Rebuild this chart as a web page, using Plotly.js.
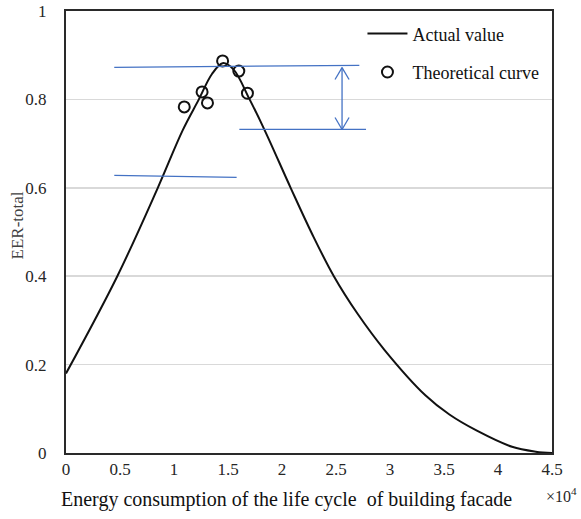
<!DOCTYPE html>
<html>
<head>
<meta charset="utf-8">
<script src="https://cdn.plot.ly/plotly-3.0.1.min.js"></script>
<style>html,body{margin:0;padding:0;background:#fff;}#chart{width:581px;height:519px;}</style>
</head>
<body>
<div id="chart"></div>
<script>
// Actual value curve (x in units of 10^4)
const actualX = [0, 0.475, 0.85, 1.08, 1.23, 1.35, 1.45, 1.55, 1.70, 1.84, 2.08, 2.28, 2.48, 2.70, 2.95, 3.33, 3.55, 3.80, 4.13, 4.35, 4.5];
const actualY = [0.18, 0.40, 0.60, 0.73, 0.80, 0.857, 0.882, 0.868, 0.80, 0.73, 0.60, 0.495, 0.40, 0.315, 0.233, 0.13, 0.087, 0.051, 0.014, 0.003, 0];

// Theoretical curve points
const theoX = [1.095, 1.26, 1.31, 1.45, 1.60, 1.68];
const theoY = [0.783, 0.817, 0.792, 0.887, 0.864, 0.814];

// Tick labels
const xTicks = [0, 0.5, 1, 1.5, 2, 2.5, 3, 3.5, 4, 4.5];
const xTickLabels = ["0", "0.5", "1", "1.5", "2", "2.5", "3", "3.5", "4", "4.5"];
const yTicks = [0, 0.2, 0.4, 0.6, 0.8, 1];
const yTickLabels = ["0", "0.2", "0.4", "0.6", "0.8", "1"];

// Blue guide lines [x0, y0, x1, y1]
const guideTop = [0.447, 0.8726, 2.716, 0.877];
const guideRight = [1.605, 0.732, 2.778, 0.732];
const guideLeft = [0.447, 0.628, 1.580, 0.6235];
// Double arrow: x, top y, bottom y
const arrowX = 2.556;
const arrowTop = 0.872;
const arrowBottom = 0.732;

const blue = '#4472C4';
const serif = '"Liberation Serif", "Times New Roman", serif';

function seg(a, w) {
  return {type: 'line', xref: 'x', yref: 'y', x0: a[0], y0: a[1], x1: a[2], y1: a[3],
          line: {color: blue, width: w || 1.3}};
}
const headDx = 0.065, headDy = 0.027;
const shapes = [
  seg(guideTop), seg(guideRight), seg(guideLeft),
  seg([arrowX, arrowTop, arrowX, arrowBottom]),
  seg([arrowX, arrowTop, arrowX - headDx, arrowTop - headDy]),
  seg([arrowX, arrowTop, arrowX + headDx, arrowTop - headDy]),
  seg([arrowX, arrowBottom, arrowX - headDx, arrowBottom + headDy]),
  seg([arrowX, arrowBottom, arrowX + headDx, arrowBottom + headDy])
];

const traces = [
  {x: actualX, y: actualY, type: 'scatter', mode: 'lines', name: 'Actual value',
   line: {color: '#111', width: 2, shape: 'spline', smoothing: 1}, legendgroup: 'a'},
  {x: theoX, y: theoY, type: 'scatter', mode: 'markers', name: 'Theoretical curve',
   marker: {symbol: 'circle-open', size: 11, color: '#111', line: {width: 2, color: '#111'}}, legendgroup: 'b'}
];

const layout = {
  width: 581, height: 519,
  margin: {l: 66, r: 29, t: 11, b: 66},
  paper_bgcolor: '#fff', plot_bgcolor: '#fff',
  font: {family: serif, color: '#262626'},
  showlegend: true,
  legend: {x: 0.61, y: 0.99, xanchor: 'left', yanchor: 'top', bgcolor: 'rgba(0,0,0,0)', itemwidth: 40,
           font: {family: serif, size: 18, color: '#111'}, traceorder: 'grouped', tracegroupgap: 12},
  xaxis: {range: [0, 4.5], tickvals: xTicks, ticktext: xTickLabels, showgrid: false, zeroline: false,
          showline: true, mirror: true, linecolor: '#2a2a2a', linewidth: 2, ticks: '',
          tickfont: {family: serif, size: 17, color: '#262626'}},
  yaxis: {range: [0, 1], tickvals: yTicks, ticktext: yTickLabels, showgrid: true, gridcolor: '#d9d9d9', gridwidth: 1.5,
          zeroline: false, showline: true, mirror: true, linecolor: '#2a2a2a', linewidth: 2, ticks: '',
          ticklabelstandoff: 14, tickfont: {family: serif, size: 17, color: '#262626'}},
  shapes: shapes,
  annotations: [
    {text: 'Energy consumption of the life cycle  of building facade', xref: 'paper', yref: 'paper',
     x: 0.4527, y: -0.106, xanchor: 'center', yanchor: 'middle', showarrow: false,
     font: {family: serif, size: 20, color: '#111'}},
    {text: '×10<sup>4</sup>', xref: 'paper', yref: 'paper', x: 1.0, y: -0.095, xanchor: 'left', yanchor: 'middle',
     xshift: -8, showarrow: false, font: {family: serif, size: 16, color: '#262626'}},
    {text: 'EER-total', xref: 'paper', yref: 'paper', x: -0.0998, y: 0.516, xanchor: 'center', yanchor: 'middle',
     textangle: -90, showarrow: false, font: {family: serif, size: 17, color: '#404040'}}
  ]
};

Plotly.newPlot('chart', traces, layout, {displayModeBar: false, staticPlot: true});
</script>
</body>
</html>
